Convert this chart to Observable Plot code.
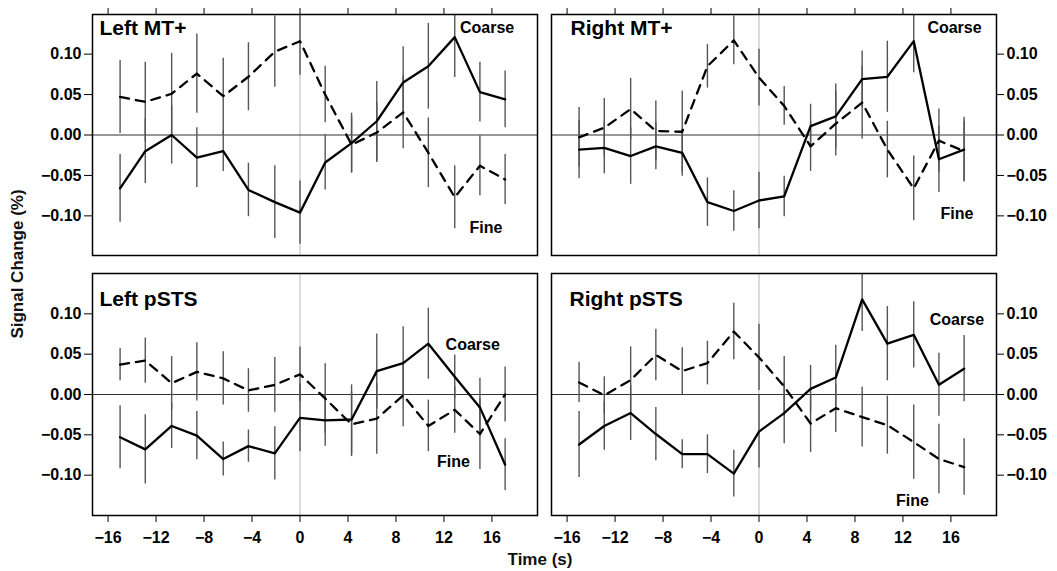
<!DOCTYPE html>
<html>
<head>
<meta charset="utf-8">
<script src="https://cdn.jsdelivr.net/npm/d3@7"></script>
<script src="https://cdn.jsdelivr.net/npm/@observablehq/plot@0.6"></script>
<style>
  html, body { margin: 0; padding: 0; background: #fff; }
  #fig { position: relative; width: 1057px; height: 571px; overflow: hidden; font-family: "Liberation Sans", Arial, Helvetica, sans-serif; }
  #fig > div.p { position: absolute; }
  .lab { position: absolute; font-size: 17px; font-weight: bold; color: #111; white-space: nowrap; }
</style>
</head>
<body>
<div id="fig"></div>
<script>
// ---- data ----
const times = [-15.0, -12.9, -10.7, -8.6, -6.4, -4.3, -2.1, 0, 2.1, 4.3, 6.4, 8.6, 10.7, 12.9, 15.0, 17.1];
const xTicks = [-16, -12, -8, -4, 0, 4, 8, 12, 16];
const yTicks = [-0.10, -0.05, 0, 0.05, 0.10];
const panelTitles = ["Left MT+", "Right MT+", "Left pSTS", "Right pSTS"];
const conditionNames = ["Coarse", "Fine"];

const leftMTCoarse    = [-0.066, -0.020, 0.000, -0.028, -0.020, -0.068, -0.083, -0.096, -0.034, -0.010, 0.017, 0.065, 0.085, 0.121, 0.053, 0.044];
const leftMTCoarseErr = [0.042, 0.040, 0.036, 0.037, 0.025, 0.033, 0.045, 0.039, 0.034, 0.037, 0.049, 0.044, 0.053, 0.050, 0.037, 0.035];
const leftMTFine      = [0.047, 0.041, 0.051, 0.076, 0.048, 0.072, 0.103, 0.116, 0.050, -0.012, 0.003, 0.028, -0.022, -0.077, -0.038, -0.055];
const leftMTFineErr   = [0.045, 0.049, 0.050, 0.049, 0.047, 0.042, 0.044, 0.042, 0.035, 0.035, 0.037, 0.045, 0.043, 0.039, 0.037, 0.031];

const rightMTCoarse    = [-0.018, -0.016, -0.026, -0.014, -0.022, -0.083, -0.094, -0.081, -0.076, 0.011, 0.023, 0.069, 0.072, 0.116, -0.030, -0.018];
const rightMTCoarseErr = [0.036, 0.032, 0.035, 0.029, 0.029, 0.030, 0.025, 0.035, 0.025, 0.027, 0.040, 0.035, 0.044, 0.039, 0.041, 0.040];
const rightMTFine      = [-0.003, 0.009, 0.032, 0.005, 0.004, 0.085, 0.117, 0.071, 0.036, -0.014, 0.014, 0.040, -0.018, -0.066, -0.007, -0.020];
const rightMTFineErr   = [0.037, 0.036, 0.038, 0.037, 0.050, 0.027, 0.030, 0.035, 0.024, 0.031, 0.040, 0.045, 0.035, 0.040, 0.039, 0.037];

const leftSTSCoarse    = [-0.053, -0.068, -0.039, -0.051, -0.080, -0.064, -0.073, -0.029, -0.032, -0.031, 0.029, 0.039, 0.063, 0.022, -0.016, -0.087];
const leftSTSCoarseErr = [0.039, 0.043, 0.028, 0.030, 0.021, 0.020, 0.033, 0.042, 0.032, 0.043, 0.046, 0.045, 0.044, 0.027, 0.036, 0.032];
const leftSTSFine      = [0.037, 0.042, 0.014, 0.028, 0.020, 0.005, 0.012, 0.025, -0.005, -0.037, -0.030, -0.001, -0.039, -0.019, -0.049, 0.000];
const leftSTSFineErr   = [0.020, 0.028, 0.033, 0.036, 0.033, 0.027, 0.034, 0.034, 0.043, 0.040, 0.044, 0.039, 0.032, 0.029, 0.044, 0.034];

const rightSTSCoarse    = [-0.062, -0.039, -0.023, -0.049, -0.074, -0.074, -0.098, -0.046, -0.023, 0.007, 0.021, 0.118, 0.063, 0.074, 0.012, 0.032];
const rightSTSCoarseErr = [0.041, 0.030, 0.034, 0.033, 0.018, 0.024, 0.029, 0.045, 0.038, 0.029, 0.040, 0.040, 0.046, 0.041, 0.039, 0.041];
const rightSTSFine      = [0.015, -0.001, 0.018, 0.049, 0.029, 0.039, 0.078, 0.046, 0.010, -0.036, -0.017, -0.028, -0.038, -0.059, -0.080, -0.090];
const rightSTSFineErr   = [0.025, 0.023, 0.041, 0.032, 0.029, 0.027, 0.035, 0.041, 0.037, 0.036, 0.030, 0.037, 0.036, 0.046, 0.043, 0.035];

// condition label anchors (data units) per panel: [coarseX, coarseY, fineX, fineY]
const labelAnchors = [
  [15.6, 0.133, 15.5, -0.115],
  [16.3, 0.133, 16.5, -0.098],
  [14.4, 0.062, 12.8, -0.084],
  [16.5, 0.093, 12.8, -0.132]
];

// ---- drawing ----
const font = '"Liberation Sans", Arial, Helvetica, sans-serif';
const fig = document.getElementById("fig");
const fmtY = d3.format(".2f");
const fmtX = d3.format("d");

const panels = [
  {title: panelTitles[0], c: leftMTCoarse, ce: leftMTCoarseErr, f: leftMTFine, fe: leftMTFineErr, col: 0, row: 0, tdx: 7, tdy: 14},
  {title: panelTitles[1], c: rightMTCoarse, ce: rightMTCoarseErr, f: rightMTFine, fe: rightMTFineErr, col: 1, row: 0, tdx: 19, tdy: 14},
  {title: panelTitles[2], c: leftSTSCoarse, ce: leftSTSCoarseErr, f: leftSTSFine, fe: leftSTSFineErr, col: 0, row: 1, tdx: 7, tdy: 26},
  {title: panelTitles[3], c: rightSTSCoarse, ce: rightSTSCoarseErr, f: rightSTSFine, fe: rightSTSFineErr, col: 1, row: 1, tdx: 18, tdy: 26}
];

panels.forEach((p, i) => {
  const rows = times.map((t, k) => ({t, coarse: p.c[k], ce: p.ce[k], fine: p.f[k], fe: p.fe[k]}));
  const left = p.col === 0;
  const top = p.row === 0;
  const width = left ? 545 : 512;
  const height = top ? 262 : 309;
  const marks = [
    Plot.ruleX([0], {stroke: "#cfcfcf", strokeWidth: 1.5}),
    Plot.ruleY([0], {stroke: "#333", strokeWidth: 1}),
    Plot.ruleX(rows, {x: "t", y1: d => d.fine - d.fe, y2: d => d.fine + d.fe, stroke: "#555", strokeWidth: 1.4}),
    Plot.ruleX(rows, {x: "t", y1: d => d.coarse - d.ce, y2: d => d.coarse + d.ce, stroke: "#555", strokeWidth: 1.4}),
    Plot.line(rows, {x: "t", y: "fine", stroke: "#000", strokeWidth: 2.3, strokeDasharray: "9,7"}),
    Plot.line(rows, {x: "t", y: "coarse", stroke: "#000", strokeWidth: 2.3}),
    Plot.frame({stroke: "#000", strokeWidth: 1.5}),
    left
      ? Plot.axisY({anchor: "left", ticks: yTicks, tickFormat: fmtY, tickSize: 8, tickPadding: 3, label: null, fontSize: 16, fontWeight: "bold"})
      : Plot.axisY({anchor: "right", ticks: yTicks, tickFormat: fmtY, tickSize: 7, tickPadding: 3, label: null, fontSize: 16, fontWeight: "bold"}),
    top
      ? Plot.axisX({anchor: "top", ticks: xTicks, tickFormat: () => "", tickSize: 7, label: null})
      : Plot.axisX({anchor: "bottom", ticks: xTicks, tickFormat: fmtX, tickSize: 7, tickPadding: 9, label: null, fontSize: 16, fontWeight: "bold"}),
    Plot.text([p.title], {frameAnchor: "top-left", textAnchor: "start", lineAnchor: "middle", dx: p.tdx, dy: p.tdy, fontSize: 21, fontWeight: "bold", fill: "#000"}),
    Plot.text([conditionNames[0]], {x: labelAnchors[i][0], y: labelAnchors[i][1], fontSize: 16, fontWeight: "bold", fill: "#000"}),
    Plot.text([conditionNames[1]], {x: labelAnchors[i][2], y: labelAnchors[i][3], fontSize: 16, fontWeight: "bold", fill: "#000"})
  ];
  const chart = Plot.plot({
    width, height,
    marginLeft: left ? 92 : 6,
    marginRight: left ? 8 : 61,
    marginTop: top ? 14 : 11,
    marginBottom: top ? 7 : 56,
    x: {domain: [-17.3, 19.8]},
    y: {domain: top ? [-0.149, 0.149] : [-0.150, 0.150], clamp: true},
    style: {fontFamily: font, fontSize: "16px", background: "#fff", color: "#000", overflow: "visible"},
    marks
  });
  const wrap = document.createElement("div");
  wrap.className = "p";
  wrap.style.left = (left ? 0 : 545) + "px";
  wrap.style.top = (top ? 0 : 262) + "px";
  wrap.appendChild(chart);
  fig.appendChild(wrap);
});

const yl = document.createElement("div");
yl.className = "lab";
yl.textContent = "Signal Change (%)";
yl.style.left = "18px";
yl.style.top = "264px";
yl.style.transform = "translate(-50%, -50%) rotate(-90deg)";
fig.appendChild(yl);

const xl = document.createElement("div");
xl.className = "lab";
xl.textContent = "Time (s)";
xl.style.left = "540px";
xl.style.top = "560px";
xl.style.transform = "translate(-50%, -50%)";
fig.appendChild(xl);
</script>
</body>
</html>
